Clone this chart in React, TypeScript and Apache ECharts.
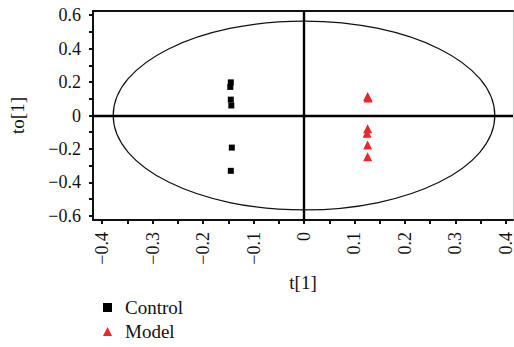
import React, { useEffect, useRef } from "react";
import * as echarts from "echarts";

const controlX = [-0.145, -0.146, -0.145, -0.144, -0.143, -0.145];
const controlY = [0.198, 0.171, 0.095, 0.06, -0.192, -0.331];
const modelX = [0.126, 0.127, 0.126, 0.125, 0.126, 0.126];
const modelY = [0.113, 0.104, -0.079, -0.106, -0.177, -0.246];
const ellipse = [[0, 0, 0.378, 0.565]];
const xTicks = [-0.4, -0.35, -0.3, -0.25, -0.2, -0.15, -0.1, -0.05, 0, 0.05, 0.1, 0.15, 0.2, 0.25, 0.3, 0.35, 0.4];
const xLabels = [-0.4, -0.3, -0.2, -0.1, 0, 0.1, 0.2, 0.3, 0.4];
const yTicks = [-0.6, -0.5, -0.4, -0.3, -0.2, -0.1, 0, 0.1, 0.2, 0.3, 0.4, 0.5, 0.6];
const yLabels = [-0.6, -0.4, -0.2, 0, 0.2, 0.4, 0.6];

const FONT = "Liberation Serif";
const fmt = (v: number) => {
  const r = Math.round(v * 10) / 10;
  if (r === 0) return "0";
  return (r < 0 ? "\u2212" : "") + Math.abs(r).toFixed(1);
};

export default function App() {
  const ref = useRef<HTMLDivElement>(null);
  useEffect(() => {
    const chart = echarts.init(ref.current!, null, { renderer: "svg" });
    chart.setOption({
      animation: false,
      textStyle: { fontFamily: FONT },
      grid: { left: 93, right: 1, top: 11, bottom: 127, outerBoundsMode: "none", containLabel: false },
      legend: {
        orient: "vertical",
        left: 98,
        top: 293,
        height: 60,
        itemWidth: 9,
        itemHeight: 9,
        itemGap: 5,
        textStyle: { fontFamily: FONT, fontSize: 19, color: "#111", padding: [0, 0, 0, 8] },
        data: [
          { name: "Control", icon: "rect" },
          { name: "Model", icon: "triangle" },
        ],
      },
      xAxis: [
        {
          type: "value",
          min: -0.418,
          max: 0.414,
          name: "t[1]",
          nameLocation: "middle",
          nameGap: 53,
          nameTextStyle: { fontFamily: FONT, fontSize: 19, color: "#111" },
          axisLine: { show: true, onZero: false, lineStyle: { color: "#111", width: 2 } },
          axisTick: { show: true, length: 4, lineStyle: { color: "#111", width: 2 }, customValues: xTicks },
          axisLabel: {
            show: true,
            rotate: 90,
            margin: 12,
            fontFamily: FONT,
            fontSize: 18,
            color: "#111",
            customValues: xLabels,
            formatter: fmt,
          },
          splitLine: { show: false },
        },
        {
          type: "value",
          position: "top",
          min: -0.418,
          max: 0.414,
          axisLine: { show: true, onZero: false, lineStyle: { color: "#111", width: 2 } },
          axisTick: { show: false },
          axisLabel: { show: false },
          splitLine: { show: false },
        },
      ],
      yAxis: [
        {
          type: "value",
          min: -0.625,
          max: 0.625,
          name: "to[1]",
          nameLocation: "middle",
          nameGap: 66,
          nameRotate: 90,
          nameTextStyle: { fontFamily: FONT, fontSize: 19, color: "#111" },
          axisLine: { show: true, onZero: false, lineStyle: { color: "#111", width: 2 } },
          axisTick: { show: true, length: 4, lineStyle: { color: "#111", width: 2 }, customValues: yTicks },
          axisLabel: {
            show: true,
            margin: 12,
            fontFamily: FONT,
            fontSize: 18,
            color: "#111",
            customValues: yLabels,
            formatter: fmt,
          },
          splitLine: { show: false },
        },
        {
          type: "value",
          position: "right",
          min: -0.625,
          max: 0.625,
          axisLine: { show: true, onZero: false, lineStyle: { color: "#cccccc", width: 1 } },
          axisTick: { show: false },
          axisLabel: { show: false },
          splitLine: { show: false },
        },
      ],
      series: [
        {
          type: "custom",
          name: "ellipse",
          silent: true,
          clip: false,
          xAxisIndex: 0,
          yAxisIndex: 0,
          encode: { x: 0, y: 1 },
          data: ellipse,
          renderItem: (params: any, api: any) => {
            const c = api.coord([api.value(0), api.value(1)]);
            const s = api.size([api.value(2), api.value(3)]);
            return {
              type: "ellipse",
              shape: { cx: c[0], cy: c[1], rx: s[0], ry: s[1] },
              style: { fill: "none", stroke: "#111", lineWidth: 1.2 },
            };
          },
          markLine: {
            silent: true,
            symbol: "none",
            label: { show: false },
            lineStyle: { color: "#000", width: 2.4, type: "solid" },
            data: [{ xAxis: 0 }, { yAxis: 0 }],
          },
          z: 1,
        },
        {
          type: "scatter",
          name: "Control",
          symbol: "rect",
          symbolSize: 6,
          itemStyle: { color: "#000", opacity: 1 },
          data: controlX.map((x, i) => [x, controlY[i]]),
          z: 3,
        },
        {
          type: "scatter",
          name: "Model",
          symbol: "triangle",
          symbolSize: 9,
          itemStyle: { color: "#e8262b", opacity: 1 },
          data: modelX.map((x, i) => [x, modelY[i]]),
          z: 3,
        },
      ],
    });
    return () => chart.dispose();
  }, []);
  return <div ref={ref} style={{ width: 514, height: 347, position: "absolute", left: 0, top: 0 }} />;
}
